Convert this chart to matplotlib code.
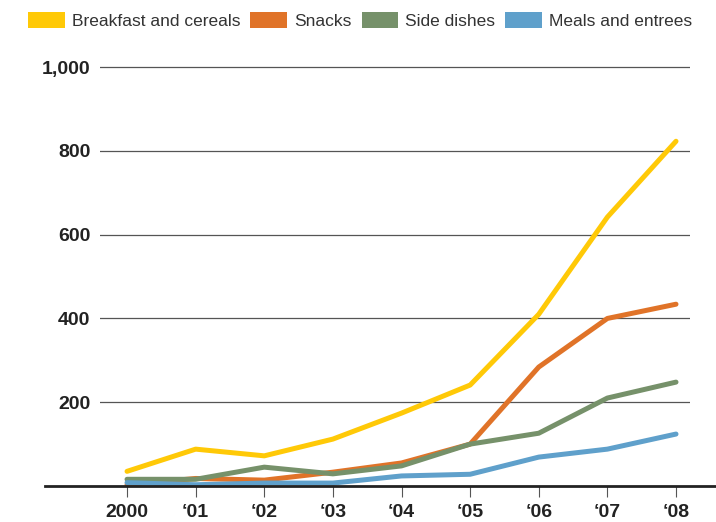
import matplotlib
matplotlib.use('Agg')
import matplotlib.pyplot as plt
from matplotlib.patches import Patch

# Data
years = ['2000', '\u201801', '\u201802', '\u201803', '\u201804', '\u201805', '\u201806', '\u201807', '\u201808']
breakfast = [35, 88, 72, 112, 174, 241, 410, 642, 823]
snacks = [3, 18, 14, 33, 55, 100, 284, 400, 434]
side_dishes = [16, 16, 45, 29, 48, 100, 126, 210, 248]
meals = [8, 3, 7, 7, 24, 28, 69, 88, 124]

series = [
    ('Breakfast and cereals', breakfast, '#FFC907'),
    ('Snacks', snacks, '#E07328'),
    ('Side dishes', side_dishes, '#76916A'),
    ('Meals and entrees', meals, '#5FA0CB'),
]

plt.rcParams['font.family'] = ['Liberation Sans', 'DejaVu Sans']

fig = plt.figure(figsize=(7.16, 5.22), dpi=100)
ax = fig.add_axes([100 / 716, 36 / 522, 590 / 716, 426 / 522])

x = list(range(len(years)))
for name, vals, color in series:
    ax.plot(x, vals, color=color, lw=3.6, solid_capstyle='round', zorder=3)

ax.set_xlim(-0.394, 8.204)
ax.set_ylim(0, 1017)

ax.set_yticks([200, 400, 600, 800, 1000])
ax.set_yticklabels(['200', '400', '600', '800', '1,000'],
                   fontsize=14, fontweight='bold', color='#222222')
ax.yaxis.grid(True, color='#555555', lw=0.9)
ax.tick_params(axis='y', length=0, pad=7)

ax.set_xticks(x)
ax.set_xticklabels(years, fontsize=14, fontweight='bold', color='#222222')
ax.tick_params(axis='x', length=8, width=0.8, color='#555555', pad=5)

for s in ax.spines.values():
    s.set_visible(False)

# baseline extending past the plot area
ax.plot([-0.093, 1.044], [0, 0], transform=ax.transAxes, color='#222222',
        lw=2, clip_on=False, zorder=4)

handles = [Patch(facecolor=c, edgecolor='none', label=n) for n, v, c in series]
fig.legend(handles=handles, loc='upper left', bbox_to_anchor=(16 / 716, 1.0), ncol=4,
           frameon=False, fontsize=12.5, handlelength=2.1, handleheight=1.0,
           handletextpad=0.4, columnspacing=0.6, borderaxespad=0.3,
           labelcolor='#333333')

fig.savefig('out.png', dpi=100)
